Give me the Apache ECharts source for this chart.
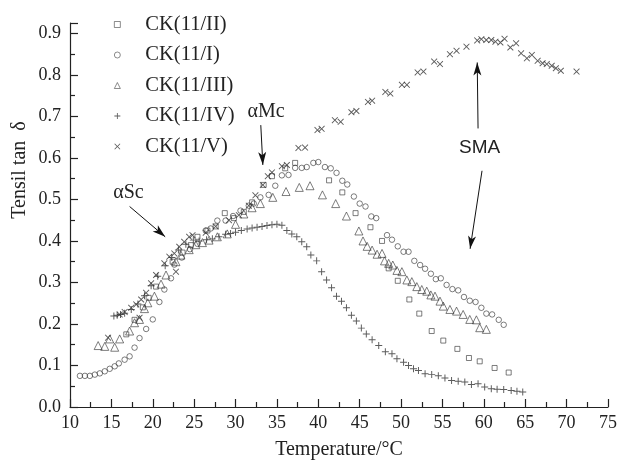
<!DOCTYPE html>
<html>
<head>
<meta charset="utf-8">
<script src="https://cdn.jsdelivr.net/npm/echarts@6/dist/echarts.min.js"></script>
<style>html,body{margin:0;padding:0;background:#fff;}#c{width:620px;height:465px;}</style>
</head>
<body>
<div id="c"></div>
<script>
// ---- data (temperature °C, tensile tan δ) ----
const seriesNames = ['CK(11/II)', 'CK(11/I)', 'CK(11/III)', 'CK(11/IV)', 'CK(11/V)'];

const ck2 = [[16.8,.175],[17.8,.21],[18.8,.24],[19.5,.263],[20.4,.29],[22.4,.35],[23.6,.372],[24.6,.39],[25.4,.41],[26.6,.425],[27.6,.435],[28.7,.467],[29.8,.455],[31.0,.47],[32.0,.493],[33.4,.535],[34.4,.556],[36.0,.575],[37.2,.588],[41.3,.546],[42.9,.517],[44.5,.467],[46.3,.433],[47.7,.40],[48.5,.334],[49.6,.304],[51.0,.259],[52.2,.225],[53.7,.183],[55.1,.16],[56.8,.14],[58.2,.118],[59.5,.11],[61.3,.094],[63.0,.083]];

const ck1 = [[11.2,.075],[11.8,.075],[12.4,.075],[13.0,.078],[13.6,.081],[14.2,.086],[14.8,.092],[15.4,.098],[15.9,.105],[16.6,.114],[17.2,.122],[17.8,.143],[18.4,.166],[19.2,.188],[20.0,.211],[20.8,.253],[21.4,.283],[22.2,.31],[22.6,.343],[23.5,.36],[24.5,.38],[25.4,.393],[26.4,.425],[27.0,.43],[27.8,.449],[28.8,.449],[29.7,.46],[30.6,.473],[31.6,.485],[32.2,.49],[33.0,.505],[34.0,.511],[34.8,.533],[35.6,.558],[36.4,.559],[37.2,.576],[38.0,.576],[38.6,.578],[39.4,.588],[40.0,.59],[40.8,.578],[41.5,.575],[42.2,.564],[42.9,.545],[43.5,.536],[44.3,.507],[45.0,.49],[45.7,.483],[46.4,.459],[47.0,.455],[48.3,.414],[48.9,.403],[49.6,.387],[50.3,.374],[50.9,.374],[51.6,.352],[52.3,.342],[52.9,.333],[53.6,.321],[54.2,.308],[54.8,.31],[55.5,.294],[56.2,.284],[56.9,.281],[57.6,.265],[58.3,.256],[59.0,.253],[59.7,.239],[60.3,.225],[61.0,.223],[61.8,.21],[62.4,.198]];

const ck3 = [[13.4,.148],[14.2,.146],[14.8,.164],[15.4,.144],[16.0,.164],[17.2,.183],[17.8,.203],[18.4,.211],[19.0,.237],[19.4,.251],[20.2,.267],[21.0,.296],[21.6,.318],[22.8,.35],[23.4,.366],[24.4,.379],[25.2,.391],[26.0,.396],[26.8,.402],[27.8,.41],[29.0,.417],[30.0,.44],[31.0,.465],[32.0,.48],[33.0,.49],[34.5,.505],[36.1,.519],[37.7,.529],[39.0,.533],[40.5,.511],[42.1,.49],[43.4,.46],[44.9,.424],[45.4,.40],[45.9,.387],[46.5,.378],[47.1,.368],[47.7,.37],[48.0,.352],[48.5,.346],[49.0,.342],[49.5,.329],[50.1,.326],[50.7,.306],[51.3,.302],[51.9,.29],[52.5,.283],[53.1,.279],[53.6,.27],[54.1,.267],[54.7,.255],[55.1,.243],[55.9,.235],[56.7,.231],[57.5,.223],[58.3,.211],[59.1,.21],[59.5,.191],[60.3,.187]];

const ck4 = [[15.3,.219],[15.7,.221],[16.1,.223],[16.6,.226],[17.4,.235],[18.2,.248],[19.0,.268],[19.8,.292],[20.6,.315],[21.5,.34],[22.3,.36],[23.1,.378],[24.0,.392],[24.9,.402],[25.6,.40],[26.5,.403],[27.2,.405],[28.0,.41],[28.8,.416],[29.4,.418],[30.0,.421],[30.7,.425],[31.4,.429],[32.0,.431],[32.6,.433],[33.2,.435],[33.8,.437],[34.4,.439],[35.0,.44],[35.6,.438],[36.2,.425],[36.8,.417],[37.4,.41],[38.0,.398],[38.6,.386],[39.1,.366],[39.8,.352],[40.4,.326],[41.0,.306],[41.6,.287],[42.2,.267],[42.8,.255],[43.4,.239],[44.0,.221],[44.6,.207],[45.2,.19],[45.8,.176],[46.5,.162],[47.3,.148],[48.1,.133],[48.9,.128],[49.5,.116],[50.3,.108],[50.9,.1],[51.5,.092],[52.1,.088],[52.9,.08],[53.7,.078],[54.5,.075],[55.3,.07],[56.1,.064],[56.9,.062],[57.7,.06],[58.5,.054],[59.3,.056],[60.1,.048],[60.9,.044],[61.6,.043],[62.4,.042],[63.3,.04],[64.0,.038],[64.7,.036]];

const ck5 = [[14.6,.167],[16.0,.223],[16.6,.229],[17.4,.239],[18.0,.247],[18.4,.215],[18.6,.259],[19.2,.275],[19.8,.298],[20.4,.318],[21.4,.346],[22.0,.362],[22.6,.37],[22.8,.326],[23.2,.386],[23.8,.398],[24.4,.41],[24.8,.414],[26.4,.42],[27.6,.435],[29.2,.45],[30.4,.462],[31.6,.485],[32.4,.51],[33.3,.535],[33.9,.556],[34.4,.565],[35.6,.58],[36.2,.583],[37.6,.624],[38.4,.625],[39.9,.667],[40.4,.67],[42.0,.691],[42.7,.687],[44.0,.71],[44.6,.713],[46.0,.735],[46.5,.738],[48.1,.759],[48.7,.755],[50.1,.776],[50.7,.776],[52.0,.806],[52.7,.808],[54.0,.832],[54.7,.826],[55.9,.85],[56.7,.858],[57.9,.868],[59.2,.883],[59.7,.886],[60.3,.884],[60.9,.884],[61.4,.88],[62.0,.878],[62.5,.887],[63.2,.866],[63.9,.876],[64.5,.852],[65.2,.84],[65.8,.848],[66.5,.834],[67.1,.828],[67.6,.826],[68.2,.822],[68.7,.816],[69.3,.81],[71.2,.808]];

const xTicks = [10, 75, 5];       // min, max, interval
const yTicks = [0, 0.925, 0.1];

// annotations: [text, textX, textY, arrowFromX, arrowFromY, arrowToX, arrowToY]
const notes = [
  ['αSc', 17.06, 0.517, 17.2, 0.483, 21.5, 0.41],
  ['αMc', 33.7, 0.712, 33.05, 0.679, 33.3, 0.583],
  ['SMA', 59.5, 0.625, 59.3, 0.671, 59.2, 0.83],
  ['', 0, 0, 59.78, 0.569, 58.34, 0.381]
];

// ---- chart ----
const SERIF = '"Liberation Serif", "DejaVu Serif", serif';
const INK = '#222';
const plusPath = 'path://M0,4.3H10V5.7H0Z M4.3,0H5.7V10H4.3Z';
const crossPath = 'path://M1,0L5,4L9,0L10,1L6,5L10,9L9,10L5,6L1,10L0,9L4,5L0,1Z';
const styles = [
  {symbol: 'rect', size: 5, filled: false},
  {symbol: 'circle', size: 5.5, filled: false},
  {symbol: 'triangle', size: 8, filled: false},
  {symbol: plusPath, size: 7, filled: true},
  {symbol: crossPath, size: 6.5, filled: true}
];
const dataSets = [ck2, ck1, ck3, ck4, ck5];

const series = dataSets.map((d, i) => {
  const s = styles[i];
  return {
    name: seriesNames[i],
    type: 'scatter',
    data: d,
    symbol: s.symbol,
    symbolSize: s.size,
    symbolKeepAspect: true,
    itemStyle: s.filled ? {color: '#333', borderWidth: 0}
                        : {color: 'rgba(255,255,255,0)', borderColor: '#333', borderWidth: 0.8},
    emphasis: {disabled: true},
    animation: false
  };
});

series.push({
  type: 'scatter',
  data: [],
  silent: true,
  animation: false,
  markLine: {
    silent: true,
    animation: false,
    symbol: ['none', 'arrow'],
    symbolSize: [6, 13],
    label: {show: false},
    lineStyle: {color: '#111', width: 1, type: 'solid'},
    emphasis: {disabled: true},
    data: notes.map(n => [{coord: [n[3], n[4]]}, {coord: [n[5], n[6]]}])
  },
  markPoint: {
    silent: true,
    animation: false,
    symbol: 'circle',
    symbolSize: 1,
    itemStyle: {color: 'rgba(0,0,0,0)'},
    data: notes.filter(n => n[0]).map(n => ({
      coord: [n[1], n[2]],
      label: {
        show: true, position: 'inside', formatter: n[0], color: INK,
        fontSize: n[0] === 'SMA' ? 19 : 20,
        fontFamily: n[0] === 'SMA' ? '"Liberation Sans", Arial, sans-serif' : SERIF
      }
    }))
  }
});

const chart = echarts.init(document.getElementById('c'), null, {renderer: 'canvas'});
chart.setOption({
  animation: false,
  backgroundColor: '#fff',
  grid: {left: 70, right: 10, top: 23, bottom: 53, containLabel: false},
  legend: {
    data: seriesNames,
    orient: 'vertical',
    left: 109,
    top: 9,
    itemWidth: 6,
    itemHeight: 6,
    itemGap: 9.5,
    selectedMode: false,
    itemStyle: {borderWidth: 0.7},
    textStyle: {fontFamily: SERIF, fontSize: 20.5, lineHeight: 20, color: INK, padding: [0, 0, 0, 20]}
  },
  xAxis: {
    type: 'value',
    min: xTicks[0], max: xTicks[1], interval: xTicks[2],
    name: 'Temperature/°C',
    nameLocation: 'middle',
    nameGap: 33,
    nameTextStyle: {fontFamily: SERIF, fontSize: 20, color: INK},
    axisLine: {show: true, onZero: false, lineStyle: {color: INK, width: 1.2}},
    axisTick: {show: true, inside: true, length: 8, lineStyle: {color: INK, width: 1.2}},
    minorTick: {show: true, splitNumber: 2, length: 5, lineStyle: {color: INK, width: 1.2}},
    splitLine: {show: false},
    axisLabel: {fontFamily: SERIF, fontSize: 18, color: INK, margin: 7}
  },
  yAxis: {
    type: 'value',
    min: yTicks[0], max: yTicks[1], interval: yTicks[2],
    axisLine: {show: true, onZero: false, lineStyle: {color: INK, width: 1.2}},
    axisTick: {show: true, inside: true, length: 8, lineStyle: {color: INK, width: 1.2}},
    minorTick: {show: true, splitNumber: 2, length: 5, lineStyle: {color: INK, width: 1.2}},
    splitLine: {show: false},
    axisLabel: {
      fontFamily: SERIF, fontSize: 18, color: INK, margin: 9,
      formatter: v => (Math.abs(v * 10 - Math.round(v * 10)) < 1e-6 ? v.toFixed(1) : '')
    }
  },
  graphic: [{
    type: 'text',
    x: 20, y: 170,
    rotation: Math.PI / 2,
    style: {text: 'Tensil tan  δ', font: '20px ' + SERIF, fill: INK, textAlign: 'center', textVerticalAlign: 'middle'}
  }],
  series: series
});
</script>
</body>
</html>
